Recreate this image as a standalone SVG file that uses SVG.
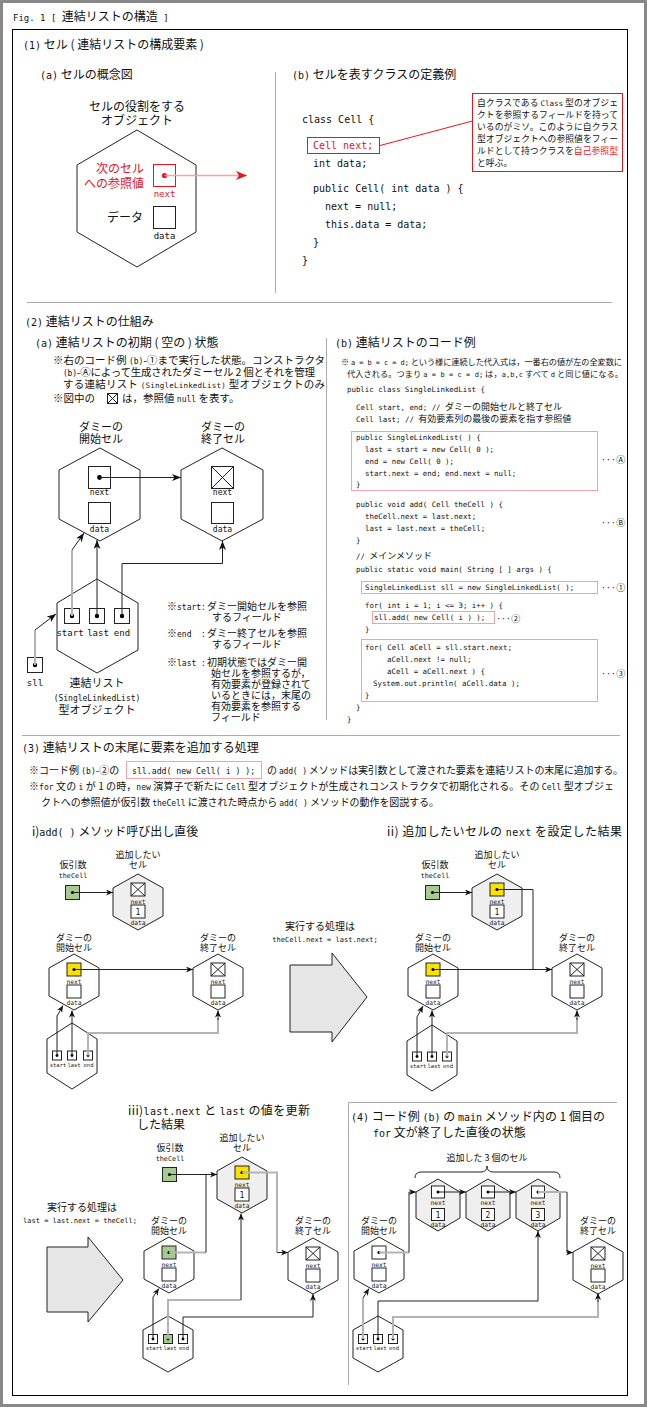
<svg xmlns="http://www.w3.org/2000/svg" width="647" height="1407" viewBox="0 0 647 1407">
<style>
text{font-family:"Noto Sans CJK JP","Noto Sans",sans-serif;fill:#111}
.c{font-family:"DejaVu Sans Mono","Noto Sans CJK JP",monospace}
.j{font-family:"Noto Sans CJK JP",sans-serif}
.m{text-anchor:middle}
.e{text-anchor:end}
.r{fill:#e8141e}
.ln{fill:none;stroke:#222;stroke-width:1}
.lg{fill:none;stroke:#b4b4b4;stroke-width:2}
.sep{fill:none;stroke:#aaa;stroke-width:1}
.hex{fill:#fff;stroke:#222;stroke-width:1}
.ghex{fill:#efefef;stroke:#222;stroke-width:1}
.bx{fill:#fff;stroke:#222;stroke-width:1}
.yb{fill:#f7e200;stroke:#222;stroke-width:1}
.gb{fill:#a6cb90;stroke:#222;stroke-width:1}
.pk{fill:none;stroke:#f3a3a8;stroke-width:1}
.lab{font-family:"DejaVu Sans Mono",monospace;font-size:6.3px;text-anchor:middle;fill:#222}
.sl{font-family:"DejaVu Sans Mono",monospace;font-size:5.5px;text-anchor:middle;fill:#222}
.s{font-size:9px;text-anchor:middle}
.cd{font-family:"DejaVu Sans Mono","Noto Sans CJK JP",monospace;font-size:7.4px}
.jc{font-family:"Noto Sans CJK JP",sans-serif;font-size:9px}
.big{fill:#e6e6e6;stroke:#222;stroke-width:1}
</style>
<defs>
<marker id="ar" markerUnits="userSpaceOnUse" markerWidth="9" markerHeight="7" refX="9" refY="3.5" orient="auto"><path d="M0,0 L9,3.5 L0,7 L2.5,3.5z" fill="#111"/></marker>
<marker id="as" markerUnits="userSpaceOnUse" markerWidth="7" markerHeight="6" refX="7" refY="3" orient="auto"><path d="M0,0 L7,3 L0,6 L2,3z" fill="#111"/></marker>
<marker id="rr" markerUnits="userSpaceOnUse" markerWidth="11" markerHeight="9" refX="11" refY="4.5" orient="auto"><path d="M0,0 L11,4.5 L0,9 L3,4.5z" fill="#e8141e"/></marker>
<polygon id="hc" points="0,-28 25,-14 25,14 0,28 -25,14 -25,-14"/>
<polygon id="hL" points="0,-33 25,-17 25,17 0,33 -25,17 -25,-17"/>
<polygon id="hn" points="0,-26 22,-13 22,13 0,26 -22,13 -22,-13"/>
<path id="xx" d="M-7,-19 L7,-6 M7,-19 L-7,-6"/>
</defs>

<rect x="1.5" y="1.5" width="644" height="1404" fill="#fff" stroke="#888" stroke-width="3"/>
<text x="13" y="21" font-size="12"><tspan class="c" font-size="9">Fig. 1 [ </tspan>連結リストの構造<tspan class="c" font-size="9"> ]</tspan></text>
<rect x="12.5" y="29.5" width="615" height="1366" fill="none" stroke="#000"/>

<g id="headings">
<text x="23" y="49" font-size="12"><tspan class="c" font-size="10">(1)</tspan> セル ( 連結リストの構成要素 )</text>
<text x="40" y="79" font-size="12"><tspan class="c" font-size="10">(a)</tspan> セルの概念図</text>
<text x="292" y="79" font-size="12"><tspan class="c" font-size="10">(b)</tspan> セルを表すクラスの定義例</text>
<line class="sep" x1="275.5" y1="72" x2="275.5" y2="293"/>
<line class="sep" x1="27" y1="302.5" x2="612" y2="302.5"/>
<text x="25" y="326" font-size="12"><tspan class="c" font-size="10">(2)</tspan> 連結リストの仕組み</text>
<text x="35" y="347" font-size="12"><tspan class="c" font-size="10">(a)</tspan> 連結リストの初期 ( 空の ) 状態</text>
<line class="sep" x1="326.5" y1="338" x2="326.5" y2="720"/>
<text x="335" y="347" font-size="12"><tspan class="c" font-size="10">(b)</tspan> 連結リストのコード例</text>
<line class="sep" x1="22" y1="735.5" x2="620" y2="735.5"/>
<text x="22" y="752" font-size="12"><tspan class="c" font-size="10">(3)</tspan> 連結リストの末尾に要素を追加する処理</text>
<path class="sep" d="M617,1102.5 H348.5 V1385"/>
</g>

<g id="cell-concept">
<text class="m" x="137" y="111" font-size="12">セルの役割をする</text>
<text class="m" x="137" y="125" font-size="12">オブジェクト</text>
<polygon class="hex" points="137,130 196,165 196,232 137,267 77,232 77,165"/>
<text class="e r" x="144" y="173" font-size="12">次のセル</text>
<text class="e r" x="144" y="188" font-size="12">への参照値</text>
<rect x="153.5" y="164.5" width="22" height="22" fill="#fff" stroke="#e8141e"/>
<circle cx="164.5" cy="175.5" r="2.6" fill="#e8141e"/>
<text class="c m r" x="164.5" y="197" font-size="9">next</text>
<text class="e" x="143" y="222" font-size="12">データ</text>
<rect class="bx" x="153.5" y="206.5" width="22" height="22"/>
<text class="c m" x="164.5" y="239" font-size="9">data</text>
</g>

<g id="class-code">
<text class="c" x="302" y="123" font-size="10">class Cell {</text>
<rect x="307.5" y="137.5" width="72" height="16" fill="#fff" stroke="#e8141e"/>
<text class="c r" x="313" y="149" font-size="10">Cell next;</text>
<text class="c" x="313" y="167" font-size="10">int data;</text>
<text class="c" x="313" y="192" font-size="10">public Cell( int data ) {</text>
<text class="c" x="325" y="210" font-size="10">next = null;</text>
<text class="c" x="325" y="228" font-size="10">this.data = data;</text>
<text class="c" x="313" y="246" font-size="10">}</text>
<text class="c" x="302" y="264" font-size="10">}</text>
</g>
<g id="note">
<rect x="472.5" y="93.5" width="150" height="78" fill="#fff" stroke="#e8141e"/>
<text x="477" y="106" font-size="8.8" textLength="141">自クラスである <tspan class="c" font-size="7.5">Class</tspan> 型のオブジェ</text>
<text x="477" y="118" font-size="8.8" textLength="141">クトを参照するフィールドを持って</text>
<text x="477" y="130" font-size="8.8" textLength="141">いるのがミソ。このように自クラス</text>
<text x="477" y="142" font-size="8.8" textLength="141">型オブジェクトへの参照値をフィー</text>
<text x="477" y="154" font-size="8.8" textLength="141">ルドとして持つクラスを<tspan class="r">自己参照型</tspan></text>
<text x="477" y="166" font-size="8.8">と呼ぶ。</text>
</g>

<g id="notes2a" font-size="10.5">
<text x="53" y="364" textLength="272">※右のコード例 <tspan class="c" font-size="8">(b)</tspan>-①まで実行した状態。コンストラクタ</text>
<text x="63" y="376" textLength="252"><tspan class="c" font-size="8">(b)</tspan>-Ⓐによって生成されたダミーセル 2 個とそれを管理</text>
<text x="63" y="388" textLength="262">する連結リスト <tspan class="c" font-size="7.5">(SingleLinkedList)</tspan> 型オブジェクトのみ</text>
<text x="53" y="402">※図中の</text>
<rect class="bx" x="107.5" y="393.5" width="10" height="10"/>
<path class="ln" d="M107.5,393.5 L117.5,403.5 M117.5,393.5 L107.5,403.5"/>
<text x="122" y="402">は，参照値 <tspan class="c" font-size="8">null</tspan> を表す。</text>
</g>

<g id="dummy-start-2">
<text class="m" x="101" y="431" font-size="11">ダミーの</text>
<text class="m" x="101" y="443" font-size="11">開始セル</text>
<polygon class="hex" points="100,448 140,470 140,519 100,541 59,519 59,470"/>
<rect class="bx" x="88.5" y="466.5" width="22" height="22"/>
<circle cx="99.5" cy="477.5" r="2.4"/>
<text class="c m" x="99.5" y="495" font-size="8">next</text>
<rect class="bx" x="88.5" y="502.5" width="22" height="21"/>
<text class="c m" x="99.5" y="532" font-size="8">data</text>
</g>
<g id="dummy-end-2">
<text class="m" x="223" y="431" font-size="11">ダミーの</text>
<text class="m" x="223" y="443" font-size="11">終了セル</text>
<polygon class="hex" points="222,448 263,470 263,519 222,541 181,519 181,470"/>
<rect class="bx" x="211.5" y="466.5" width="22" height="22"/>
<path class="ln" d="M211.5,466.5 L233.5,488.5 M233.5,466.5 L211.5,488.5"/>
<text class="c m" x="222.5" y="495" font-size="8">next</text>
<rect class="bx" x="211.5" y="502.5" width="22" height="21"/>
<text class="c m" x="222.5" y="532" font-size="8">data</text>
</g>
<g id="sll-2">
<polygon class="hex" points="97,579 138,603 138,650 97,673 57,650 57,603"/>
<rect class="bx" x="64.5" y="608.5" width="15" height="15"/>
<rect class="bx" x="89.5" y="608.5" width="15" height="15"/>
<rect class="bx" x="114.5" y="608.5" width="15" height="15"/>
<circle cx="72" cy="616" r="2.2"/>
<circle cx="97" cy="616" r="2.2"/>
<circle cx="122" cy="616" r="2.2"/>
<text class="c m" x="70" y="636" font-size="9">start</text>
<text class="c m" x="98" y="636" font-size="9">last</text>
<text class="c m" x="122" y="636" font-size="9">end</text>
<text class="m" x="97" y="687" font-size="11">連結リスト</text>
<text class="c m" x="97" y="701" font-size="8">(SingleLinkedList)</text>
<text class="m" x="97" y="714" font-size="11">型オブジェクト</text>
</g>
<g id="sll-var">
<rect class="bx" x="27.5" y="657.5" width="15" height="15"/>
<circle cx="35" cy="665" r="2.2"/>
<text class="c m" x="35" y="686" font-size="9">sll</text>
</g>
<g id="notes2a-fields" font-size="10">
<text x="167" y="610">※<tspan class="c" font-size="8">start:</tspan></text>
<text x="207" y="610">ダミー開始セルを参照</text>
<text x="212" y="621">するフィールド</text>
<text x="167" y="637">※<tspan class="c" font-size="8">end</tspan></text>
<text x="201" y="637"><tspan class="c" font-size="8">:</tspan></text>
<text x="207" y="637">ダミー終了セルを参照</text>
<text x="212" y="648">するフィールド</text>
<text x="167" y="666">※<tspan class="c" font-size="8">last</tspan></text>
<text x="201" y="666"><tspan class="c" font-size="8">:</tspan></text>
<text x="207" y="666">初期状態ではダミー開</text>
<text x="211" y="677">始セルを参照するが，</text>
<text x="211" y="688">有効要素が登録されて</text>
<text x="211" y="699">いるときには，末尾の</text>
<text x="211" y="710">有効要素を参照する</text>
<text x="211" y="721">フィールド</text>
</g>

<g id="code2b">
<text x="341" y="365" font-size="8.2" textLength="281">※ <tspan class="c" font-size="7">a = b = c = d;</tspan> という様に連続した代入式は，一番右の値が左の全変数に</text>
<text x="347" y="377" font-size="8.2" textLength="276">代入される。つまり <tspan class="c" font-size="7">a = b = c = d;</tspan> は，<tspan class="c" font-size="7">a,b,c</tspan> すべて <tspan class="c" font-size="7">d</tspan> と同じ値になる。</text>
<text class="cd" x="347" y="392">public class SingleLinkedList {</text>
<text class="cd" x="356" y="410">Cell start, end; // <tspan class="jc">ダミーの開始セルと終了セル</tspan></text>
<text class="cd" x="356" y="422">Cell last; // <tspan class="jc">有効要素列の最後の要素を指す参照値</tspan></text>
<rect class="pk" x="351.5" y="431.5" width="246" height="59"/>
<text class="cd" x="356" y="440">public SingleLinkedList( ) {</text>
<text class="cd" x="365" y="452">last = start = new Cell( 0 );</text>
<text class="cd" x="365" y="464">end = new Cell( 0 );</text>
<text class="cd" x="365" y="476">start.next = end; end.next = null;</text>
<text class="cd" x="356" y="487">}</text>
<text x="601" y="463" font-size="9">···Ⓐ</text>
<text class="cd" x="356" y="507">public void add( Cell theCell ) {</text>
<text class="cd" x="365" y="519">theCell.next = last.next;</text>
<text class="cd" x="365" y="531">last = last.next = theCell;</text>
<text class="cd" x="356" y="543">}</text>
<text x="601" y="526" font-size="9">···Ⓑ</text>
<text class="cd" x="356" y="559">// <tspan class="jc">メインメソッド</tspan></text>
<text class="cd" x="356" y="572">public static void main( String [ ] args ) {</text>
<rect class="pk" x="361.5" y="581.5" width="236" height="12"/>
<text class="cd" x="365" y="590">SingleLinkedList sll = new SingleLinkedList( );</text>
<text x="601" y="591" font-size="9">···①</text>
<text class="cd" x="365" y="608">for( int i = 1; i &lt;= 3; i++ ) {</text>
<rect class="pk" x="372.5" y="611.5" width="122" height="12"/>
<text class="cd" x="374" y="620">sll.add( new Cell( i ) );</text>
<text x="496" y="622" font-size="9">···②</text>
<text class="cd" x="365" y="632">}</text>
<rect class="pk" x="361.5" y="639.5" width="236" height="62"/>
<text class="cd" x="365" y="650">for( Cell aCell = sll.start.next;</text>
<text class="cd" x="387" y="662">aCell.next != null;</text>
<text class="cd" x="387" y="674">aCell = aCell.next ) {</text>
<text class="cd" x="373" y="686">System.out.println( aCell.data );</text>
<text class="cd" x="365" y="698">}</text>
<text x="601" y="677" font-size="9">···③</text>
<text class="cd" x="356" y="710">}</text>
<text class="cd" x="347" y="722">}</text>
</g>

<g id="text3" font-size="10">
<text x="29" y="774">※コード例 <tspan class="c" font-size="8">(b)</tspan>-②の</text>
<rect class="pk" x="126.5" y="761.5" width="135" height="17"/>
<text class="c" x="132" y="774" font-size="8.2">sll.add( new Cell( i ) );</text>
<text x="267" y="774" textLength="356">の <tspan class="c" font-size="8">add( )</tspan> メソッドは実引数として渡された要素を連結リストの末尾に追加する。</text>
<text x="29" y="790" textLength="585">※<tspan class="c" font-size="8">for</tspan> 文の <tspan class="c" font-size="8">i</tspan> が 1 の時，<tspan class="c" font-size="8">new</tspan> 演算子で新たに <tspan class="c" font-size="8">Cell</tspan> 型オブジェクトが生成されコンストラクタで初期化される。その <tspan class="c" font-size="8">Cell</tspan> 型オブジェ</text>
<text x="41" y="806" textLength="398">クトへの参照値が仮引数 <tspan class="c" font-size="8">theCell</tspan> に渡された時点から <tspan class="c" font-size="8">add( )</tspan> メソッドの動作を図説する。</text>
<text x="32" y="836" font-size="12">i)<tspan class="c" font-size="10">add( )</tspan> メソッド呼び出し直後</text>
<text x="387" y="836" font-size="12" textLength="235">ii) 追加したいセルの <tspan class="c" font-size="10">next</tspan> を設定した結果</text>
<text x="128" y="1115" font-size="12" textLength="182">iii)<tspan class="c" font-size="10">last.next</tspan> と <tspan class="c" font-size="10">last</tspan> の値を更新</text>
<text x="137" y="1129" font-size="12">した結果</text>
<text x="351" y="1121" font-size="12" textLength="254"><tspan class="c" font-size="10">(4)</tspan> コード例 <tspan class="c" font-size="10">(b)</tspan> の <tspan class="c" font-size="10">main</tspan> メソッド内の 1 個目の</text>
<text x="373" y="1137" font-size="12"><tspan class="c" font-size="10">for</tspan> 文が終了した直後の状態</text>
</g>

<g id="step-arrow-1">
<text class="m" x="320" y="930" font-size="10">実行する処理は</text>
<text class="c m" x="325" y="942" font-size="7">theCell.next = last.next;</text>
<polygon class="big" points="290,965 332,965 332,953 367,997 332,1042 332,1032 290,1032"/>
</g>
<g id="step-arrow-2">
<text class="m" x="82" y="1211" font-size="10">実行する処理は</text>
<text class="c m" x="80" y="1223" font-size="7">last = last.next = theCell;</text>
<polygon class="big" points="47,1247 88,1247 88,1237 123,1280 88,1322 88,1312 47,1312"/>
</g>

<!-- diagram i -->
<g id="i-thecell">
<text class="s" x="73" y="868">仮引数</text>
<text class="c m" x="73" y="878" font-size="6.8">theCell</text>
<rect class="gb" x="65.5" y="885.5" width="14" height="14"/>
<circle cx="72.5" cy="892.5" r="1.6"/>
</g>
<g id="i-added" transform="translate(138,902)">
<text class="s" y="-44">追加したい</text>
<text class="s" y="-34">セル</text>
<use href="#hc" class="ghex"/>
<rect class="bx" x="-7" y="-19" width="14" height="13"/>
<use href="#xx" class="ln"/>
<text class="lab" y="1.5">next</text>
<rect class="bx" x="-7" y="3" width="14" height="13"/>
<text class="c m" y="13" font-size="8">1</text>
<text class="lab" y="22.5">data</text>
</g>
<g id="i-start" transform="translate(74,982)">
<text class="s" y="-41">ダミーの</text>
<text class="s" y="-31">開始セル</text>
<use href="#hc" class="hex"/>
<rect class="yb" x="-7" y="-19" width="14" height="13"/>
<circle cy="-12.5" r="1.6"/>
<text class="lab" y="1.5">next</text>
<rect class="bx" x="-7" y="3" width="14" height="13"/>
<text class="lab" y="22.5">data</text>
</g>
<g id="i-end" transform="translate(218,982)">
<text class="s" y="-41">ダミーの</text>
<text class="s" y="-31">終了セル</text>
<use href="#hc" class="hex"/>
<rect class="bx" x="-7" y="-19" width="14" height="13"/>
<use href="#xx" class="ln"/>
<text class="lab" y="1.5">next</text>
<rect class="bx" x="-7" y="3" width="14" height="13"/>
<text class="lab" y="22.5">data</text>
</g>
<g id="i-sll" transform="translate(72,1056)">
<use href="#hL" class="hex"/>
<rect class="bx" x="-19.5" y="-5" width="9" height="9"/>
<rect class="bx" x="-4.5" y="-5" width="9" height="9"/>
<rect class="bx" x="11.5" y="-5" width="9" height="9"/>
<circle cx="-15" cy="-0.5" r="1.4"/><circle cx="0" cy="-0.5" r="1.4"/><circle cx="16" cy="-0.5" r="1.4"/>
<text class="sl" x="-14" y="11">start</text>
<text class="sl" x="2" y="11">last</text>
<text class="sl" x="16.5" y="11">end</text>
</g>

<!-- diagram ii -->
<g id="ii-thecell">
<text class="s" x="435" y="868">仮引数</text>
<text class="c m" x="435" y="878" font-size="6.8">theCell</text>
<rect class="gb" x="425.5" y="885.5" width="14" height="14"/>
<circle cx="432.5" cy="892.5" r="1.6"/>
</g>
<g id="ii-added" transform="translate(497,902)">
<text class="s" y="-44">追加したい</text>
<text class="s" y="-34">セル</text>
<use href="#hc" class="ghex"/>
<rect class="yb" x="-7" y="-19" width="14" height="13"/>
<circle cy="-12.5" r="1.6"/>
<text class="lab" y="1.5">next</text>
<rect class="bx" x="-7" y="3" width="14" height="13"/>
<text class="c m" y="13" font-size="8">1</text>
<text class="lab" y="22.5">data</text>
</g>
<g id="ii-start" transform="translate(433,982)">
<text class="s" y="-41">ダミーの</text>
<text class="s" y="-31">開始セル</text>
<use href="#hc" class="hex"/>
<rect class="yb" x="-7" y="-19" width="14" height="13"/>
<circle cy="-12.5" r="1.6"/>
<text class="lab" y="1.5">next</text>
<rect class="bx" x="-7" y="3" width="14" height="13"/>
<text class="lab" y="22.5">data</text>
</g>
<g id="ii-end" transform="translate(577,982)">
<text class="s" y="-41">ダミーの</text>
<text class="s" y="-31">終了セル</text>
<use href="#hc" class="hex"/>
<rect class="bx" x="-7" y="-19" width="14" height="13"/>
<use href="#xx" class="ln"/>
<text class="lab" y="1.5">next</text>
<rect class="bx" x="-7" y="3" width="14" height="13"/>
<text class="lab" y="22.5">data</text>
</g>
<g id="ii-sll" transform="translate(432,1058)">
<use href="#hL" class="hex"/>
<rect class="bx" x="-19.5" y="-6" width="9" height="9"/>
<rect class="bx" x="-4.5" y="-6" width="9" height="9"/>
<rect class="bx" x="10.5" y="-6" width="9" height="9"/>
<circle cx="-15" cy="-1.5" r="1.4"/><circle cx="0" cy="-1.5" r="1.4"/><circle cx="15" cy="-1.5" r="1.4"/>
<text class="sl" x="-14" y="10">start</text>
<text class="sl" x="2" y="10">last</text>
<text class="sl" x="16" y="10">end</text>
</g>

<!-- diagram iii -->
<g id="iii-thecell">
<text class="s" x="170" y="1151">仮引数</text>
<text class="c m" x="170" y="1161" font-size="6.8">theCell</text>
<rect class="gb" x="162.5" y="1167.5" width="14" height="14"/>
<circle cx="169.5" cy="1174.5" r="1.6"/>
</g>
<g id="iii-added" transform="translate(242,1185)">
<text class="s" y="-44">追加したい</text>
<text class="s" y="-34">セル</text>
<use href="#hc" class="ghex"/>
<rect class="yb" x="-7" y="-19" width="14" height="13"/>
<circle cy="-12.5" r="1.6"/>
<text class="lab" y="1.5">next</text>
<rect class="bx" x="-7" y="3" width="14" height="13"/>
<text class="c m" y="13" font-size="8">1</text>
<text class="lab" y="22.5">data</text>
</g>
<g id="iii-start" transform="translate(169,1265)">
<text class="s" y="-41">ダミーの</text>
<text class="s" y="-31">開始セル</text>
<use href="#hc" class="hex"/>
<rect class="gb" x="-7" y="-19" width="14" height="13"/>
<circle cy="-12.5" r="1.6"/>
<text class="lab" y="1.5">next</text>
<rect class="bx" x="-7" y="3" width="14" height="13"/>
<text class="lab" y="22.5">data</text>
</g>
<g id="iii-end" transform="translate(313,1266)">
<text class="s" y="-42">ダミーの</text>
<text class="s" y="-32">終了セル</text>
<use href="#hc" class="hex"/>
<rect class="bx" x="-7" y="-19" width="14" height="13"/>
<use href="#xx" class="ln"/>
<text class="lab" y="1.5">next</text>
<rect class="bx" x="-7" y="3" width="14" height="13"/>
<text class="lab" y="22.5">data</text>
</g>
<g id="iii-sll" transform="translate(168,1344)">
<use href="#hc" class="hex"/>
<rect class="bx" x="-19.5" y="-9.5" width="9" height="9"/>
<rect class="gb" x="-4.5" y="-9.5" width="9" height="9"/>
<rect class="bx" x="10.5" y="-9.5" width="9" height="9"/>
<circle cx="-15" cy="-5" r="1.4"/><circle cx="0" cy="-5" r="1.4"/><circle cx="15" cy="-5" r="1.4"/>
<text class="sl" x="-14" y="6">start</text>
<text class="sl" x="2" y="6">last</text>
<text class="sl" x="16" y="6">end</text>
</g>

<!-- diagram (4) -->
<g id="iv-brace">
<text class="s" x="487" y="1161">追加した 3 個のセル</text>
<path class="ln" d="M415,1178 Q415,1172 421,1172 L481,1172 Q487,1172 487,1166 Q487,1172 493,1172 L554,1172 Q560,1172 560,1178"/>
</g>
<g id="iv-c1" transform="translate(438,1205)">
<use href="#hn" class="ghex"/>
<rect class="bx" x="-6.5" y="-19" width="13" height="12"/>
<circle cy="-13" r="1.5"/>
<text class="lab" y="0">next</text>
<rect class="bx" x="-6.5" y="3.5" width="13" height="12"/>
<text class="c m" y="13" font-size="8">1</text>
<text class="lab" y="22">data</text>
</g>
<g id="iv-c2" transform="translate(488,1205)">
<use href="#hn" class="ghex"/>
<rect class="bx" x="-6.5" y="-19" width="13" height="12"/>
<circle cy="-13" r="1.5"/>
<text class="lab" y="0">next</text>
<rect class="bx" x="-6.5" y="3.5" width="13" height="12"/>
<text class="c m" y="13" font-size="8">2</text>
<text class="lab" y="22">data</text>
</g>
<g id="iv-c3" transform="translate(538,1205)">
<use href="#hn" class="ghex"/>
<rect class="bx" x="-6.5" y="-19" width="13" height="12"/>
<circle cy="-13" r="1.5"/>
<text class="lab" y="0">next</text>
<rect class="bx" x="-6.5" y="3.5" width="13" height="12"/>
<text class="c m" y="13" font-size="8">3</text>
<text class="lab" y="22">data</text>
</g>
<g id="iv-start" transform="translate(379,1265)">
<text class="s" y="-41">ダミーの</text>
<text class="s" y="-31">開始セル</text>
<use href="#hc" class="hex"/>
<rect class="bx" x="-7" y="-19" width="14" height="13"/>
<circle cy="-12.5" r="1.6"/>
<text class="lab" y="1.5">next</text>
<rect class="bx" x="-7" y="3" width="14" height="13"/>
<text class="lab" y="22.5">data</text>
</g>
<g id="iv-end" transform="translate(598,1266)">
<text class="s" y="-42">ダミーの</text>
<text class="s" y="-32">終了セル</text>
<use href="#hc" class="hex"/>
<rect class="bx" x="-7" y="-19" width="14" height="13"/>
<use href="#xx" class="ln"/>
<text class="lab" y="1.5">next</text>
<rect class="bx" x="-7" y="3" width="14" height="13"/>
<text class="lab" y="22.5">data</text>
</g>
<g id="iv-sll" transform="translate(378,1344)">
<use href="#hc" class="hex"/>
<rect class="bx" x="-19.5" y="-9.5" width="9" height="9"/>
<rect class="bx" x="-4.5" y="-9.5" width="9" height="9"/>
<rect class="bx" x="10.5" y="-9.5" width="9" height="9"/>
<circle cx="-15" cy="-5" r="1.4"/><circle cx="0" cy="-5" r="1.4"/><circle cx="15" cy="-5" r="1.4"/>
<text class="sl" x="-14" y="6">start</text>
<text class="sl" x="2" y="6">last</text>
<text class="sl" x="16" y="6">end</text>
</g>

<g id="connectors">
<path d="M164.5,175.5 H247" fill="none" stroke="#f5a3a3" stroke-width="1.5" marker-end="url(#rr)"/>
<path d="M380,145.5 L472.5,121" fill="none" stroke="#e8141e" stroke-width="1"/>
<path class="ln" d="M99.5,477.5 H181" marker-end="url(#ar)"/>
<path class="lg" d="M72,616 V550"/>
<path class="ln" d="M72,550 L84,533" marker-end="url(#ar)"/>
<path class="ln" d="M97,616 V540" marker-end="url(#ar)"/>
<path class="ln" d="M122,616 V563.5 H222.5 V541" marker-end="url(#ar)"/>
<path class="lg" d="M35,665 V630"/>
<path class="ln" d="M35,630 L56,614" marker-end="url(#ar)"/>
<path class="ln" d="M72.5,892.5 H113" marker-end="url(#as)"/>
<path class="ln" d="M74,969.5 H193" marker-end="url(#as)"/>
<path class="ln" d="M57,1055.5 V1016 L63,1005.5" marker-end="url(#as)"/>
<path class="ln" d="M72,1055.5 V1010.5" marker-end="url(#as)"/>
<path class="lg" d="M88,1055.5 V1033 H218 V1018"/>
<path class="ln" d="M218,1020 V1010.5" marker-end="url(#as)"/>
<path class="ln" d="M432.5,892.5 H472" marker-end="url(#as)"/>
<path class="ln" d="M497,889.5 H533 V969.5"/>
<path class="ln" d="M433,969.5 H552" marker-end="url(#as)"/>
<path class="ln" d="M417,1056.5 V1017 L423,1006" marker-end="url(#as)"/>
<path class="ln" d="M432,1056.5 V1010.5" marker-end="url(#as)"/>
<path class="lg" d="M447,1056.5 V1033 H577 V1018"/>
<path class="ln" d="M577,1020 V1010.5" marker-end="url(#as)"/>
<path class="ln" d="M169.5,1174.5 H217" marker-end="url(#as)"/>
<path class="lg" d="M242,1172.5 H277 V1252.5"/>
<path class="ln" d="M277,1252.5 H288" marker-end="url(#as)"/>
<path class="lg" d="M169,1252.5 H206"/>
<path class="ln" d="M206,1252.5 V1174.5"/>
<path class="ln" d="M153,1339 V1297 L159,1288.5" marker-end="url(#as)"/>
<path class="lg" d="M168,1339 V1300 H241"/>
<path class="ln" d="M241,1300 V1213.5" marker-end="url(#as)"/>
<path class="ln" d="M183,1339 V1317 H313 V1294" marker-end="url(#as)"/>
<path class="lg" d="M379,1252.5 H409"/>
<path class="ln" d="M409,1252.5 V1192 H416" marker-end="url(#as)"/>
<path class="ln" d="M438,1192 H466" marker-end="url(#as)"/>
<path class="ln" d="M488,1192 H516" marker-end="url(#as)"/>
<path class="lg" d="M538,1192 H567"/>
<path class="ln" d="M567,1192 V1252.5 H573" marker-end="url(#as)"/>
<path class="lg" d="M363,1339 V1298"/>
<path class="ln" d="M363,1298 L369,1288.5" marker-end="url(#as)"/>
<path class="ln" d="M378,1339 V1301 H538 V1231" marker-end="url(#as)"/>
<path class="lg" d="M393,1339 V1317 H598 V1300"/>
<path class="ln" d="M598,1302 V1293" marker-end="url(#as)"/>
</g>
</svg>
